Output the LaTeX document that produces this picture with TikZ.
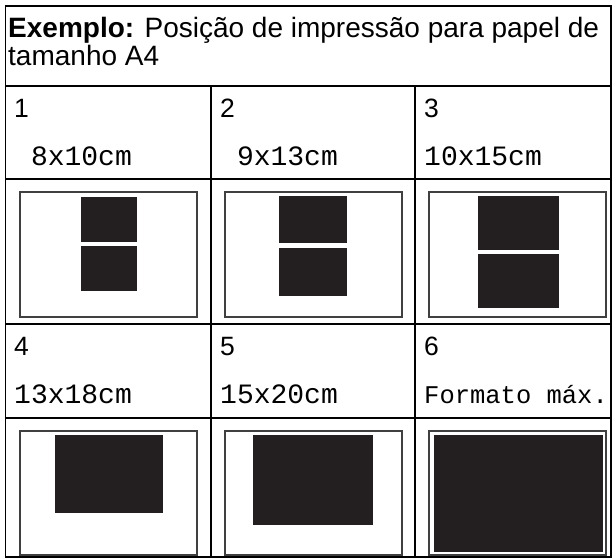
\documentclass[tikz,border=0pt]{standalone}
\usepackage{fontspec}
\setmainfont{Liberation Sans}
\setmonofont{Liberation Mono}
\definecolor{photo}{HTML}{231F20}
\begin{document}
\begin{tikzpicture}[x=1pt,y=-1pt,
	rule/.style={line width=1.4pt},
	paper/.style={line width=1.6pt,draw=black!75},
	pic/.style={fill=photo},
	head/.style={anchor=base west,inner sep=0pt,font=\fontsize{28}{28}\selectfont},
	num/.style={anchor=base west,inner sep=0pt,font=\fontsize{26.5}{26.5}\selectfont},
	size/.style={anchor=base west,inner sep=0pt,font=\fontsize{28}{28}\selectfont\ttfamily}]
	\useasboundingbox (0,0) rectangle (612,558);
	% table
	\draw[rule] (5.5,6)--(611,6)--(611,557)--(5.5,557)--cycle;
	\foreach \y in {86,179,324,418} \draw[rule] (5.5,\y)--(611,\y);
	\foreach \x in {211,415} \draw[rule] (\x,86)--(\x,557);
	% heading
	\node[head] (title) at (8,37) {\textbf{Exemplo:} Posição de impressão para papel de};
	\node[head] (title2) at (8,65) {tamanho A4};
	% cell numbers
	\foreach \n/\x/\y in {1/14/117, 2/220/117, 3/424/117, 4/14/355, 5/220/355, 6/424/355}
		\node[num] (n\n) at (\x,\y) {\n};
	% sizes
	\node[size] (s1) at (14,165) {\hphantom{0}8x10cm};
	\node[size] (s2) at (220,165) {\hphantom{0}9x13cm};
	\node[size] (s3) at (424,165) {10x15cm};
	\node[size] (s4) at (14,403) {13x18cm};
	\node[size] (s5) at (220,403) {15x20cm};
	\node[size,font=\fontsize{25.5}{25.5}\selectfont\ttfamily] (s6) at (424,403) {Formato máx.};
	% paper outlines
	\foreach \x in {20,225,429} {
		\draw[paper] (\x,192) rectangle ++(177,125);
		\draw[paper] (\x,431) rectangle ++(177,124);
	}
	% photos
	\fill[pic] (81,197) rectangle (137,242);
	\fill[pic] (81,246) rectangle (137,291);
	\fill[pic] (279,196) rectangle (347,243);
	\fill[pic] (279,248) rectangle (347,296);
	\fill[pic] (478,196) rectangle (559,250);
	\fill[pic] (478,254) rectangle (559,308);
	\fill[pic] (55,435) rectangle (163,513);
	\fill[pic] (253,435) rectangle (373,525);
	\fill[pic] (434,435) rectangle (603,552);
\end{tikzpicture}
\end{document}
